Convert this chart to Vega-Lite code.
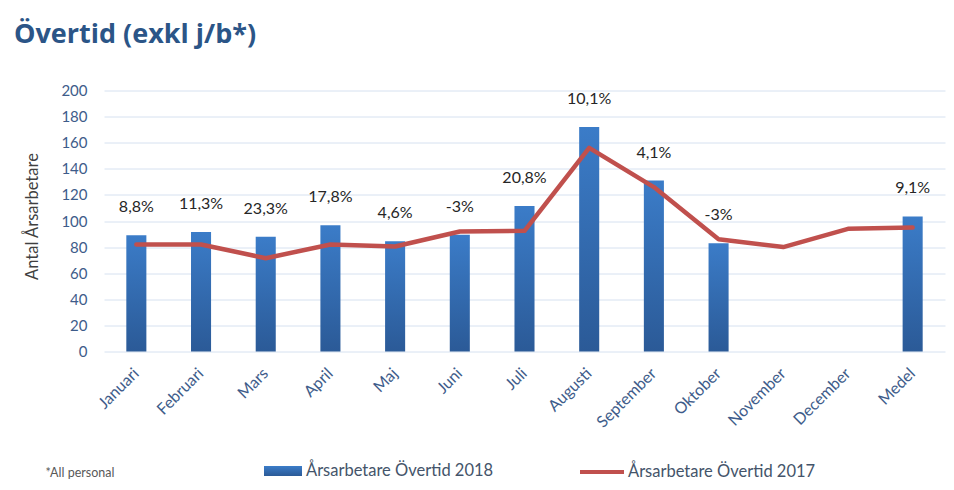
{
  "$schema": "https://vega.github.io/schema/vega-lite/v6.json",
  "autosize": {"type": "none"},
  "width": 841,
  "height": 261,
  "padding": {"left": 104, "top": 90.5, "right": 9, "bottom": 138.5},
  "background": "white",
  "title": {
    "text": "Övertid (exkl j/b*)",
    "anchor": "start",
    "frame": "group",
    "dx": -90,
    "offset": 14,
    "baseline": "alphabetic",
    "fontSize": 27,
    "fontWeight": "bold",
    "color": "#2B5587",
    "font": "Open Sans"
  },
  "config": {
    "font": "Lato",
    "view": {"stroke": null}
  },
  "data": {
    "values": [
      {"m": "Januari", "b": 89, "l": 82, "lab": "8,8%"},
      {"m": "Februari", "b": 91.5, "l": 82, "lab": "11,3%"},
      {"m": "Mars", "b": 88, "l": 71.5, "lab": "23,3%"},
      {"m": "April", "b": 96.7, "l": 82, "lab": "17,8%"},
      {"m": "Maj", "b": 84.5, "l": 80.5, "lab": "4,6%"},
      {"m": "Juni", "b": 89.5, "l": 92, "lab": "-3%"},
      {"m": "Juli", "b": 111.5, "l": 92.5, "lab": "20,8%"},
      {"m": "Augusti", "b": 172, "l": 156, "lab": "10,1%"},
      {"m": "September", "b": 131, "l": 126, "lab": "4,1%"},
      {"m": "Oktober", "b": 83, "l": 86, "lab": "-3%"},
      {"m": "November", "b": null, "l": 80, "lab": null},
      {"m": "December", "b": null, "l": 94, "lab": null},
      {"m": "Medel", "b": 103.5, "l": 95, "lab": "9,1%"}
    ]
  },
  "encoding": {
    "x": {
      "field": "m",
      "type": "nominal",
      "sort": null,
      "scale": {
        "domain": ["Januari", "Februari", "Mars", "April", "Maj", "Juni", "Juli", "Augusti", "September", "Oktober", "November", "December", "Medel"],
        "paddingInner": 0.69,
        "paddingOuter": 0.345
      },
      "axis": {
        "title": "*All personal",
        "titleX": -59,
        "titleY": 120.5,
        "titleAlign": "left",
        "titleBaseline": "middle",
        "titleAngle": 0,
        "titleFontSize": 12.5,
        "titleFontWeight": "normal",
        "titleColor": "#595959",
        "labelAngle": -45,
        "labelAlign": "right",
        "labelBaseline": "middle",
        "labelFontSize": 16,
        "labelColor": "#3E5C8A",
        "labelPadding": 19,
        "labelOverlap": false,
        "ticks": false,
        "domain": false,
        "grid": false
      }
    },
    "y": {
      "type": "quantitative",
      "scale": {"domain": [0, 200]},
      "axis": {
        "values": [0, 20, 40, 60, 80, 100, 120, 140, 160, 180, 200],
        "title": "Antal Årsarbetare",
        "titleX": -72,
        "titleY": 125.5,
        "titleAngle": -90,
        "titleAlign": "center",
        "titleBaseline": "middle",
        "titleFontSize": 16.5,
        "titleFontWeight": "normal",
        "titleColor": "#404040",
        "labelFontSize": 15,
        "labelColor": "#3E5C8A",
        "labelPadding": 17,
        "labelOverlap": false,
        "ticks": false,
        "domain": false,
        "grid": true,
        "gridColor": "#D6E1F0",
        "gridWidth": 1
      }
    }
  },
  "layer": [
    {
      "mark": {
        "type": "bar",
        "fill": {"gradient": "linear", "x1": 0, "y1": 0, "x2": 0, "y2": 1,
                 "stops": [{"offset": 0, "color": "#3B7CC8"}, {"offset": 1, "color": "#2B5A97"}]}
      },
      "encoding": {
        "y": {"field": "b"},
        "opacity": {
          "datum": "Årsarbetare Övertid 2018",
          "type": "ordinal",
          "scale": {"range": [1]},
          "legend": {
            "orient": "none",
            "legendX": 160,
            "legendY": 361.5,
            "title": null,
            "padding": 0,
            "symbolType": "M-1,-0.263H1V0.263H-1Z",
            "symbolSize": 1444,
            "symbolFillColor": "#3069B0",
            "symbolStrokeWidth": 0,
            "labelFontSize": 16.5,
            "labelLimit": 400,
            "labelColor": "#44546A",
            "labelOffset": 4
          }
        }
      }
    },
    {
      "mark": {"type": "line", "strokeWidth": 4.5, "strokeCap": "round", "strokeJoin": "round"},
      "encoding": {
        "y": {"field": "l"},
        "stroke": {
          "datum": "Årsarbetare Övertid 2017",
          "scale": {"range": ["#C0504D"]},
          "legend": {
            "orient": "none",
            "legendX": 474,
            "legendY": 357.5,
            "title": null,
            "padding": 0,
            "symbolType": "stroke",
            "symbolSize": 1936,
            "symbolStrokeWidth": 4,
            "labelFontSize": 16.5,
            "labelLimit": 400,
            "labelColor": "#44546A",
            "labelOffset": 2
          }
        }
      }
    },
    {
      "mark": {"type": "text", "dy": -28, "fontSize": 16, "color": "#262626", "baseline": "middle"},
      "encoding": {
        "y": {"field": "b"},
        "text": {"field": "lab"}
      }
    }
  ]
}
